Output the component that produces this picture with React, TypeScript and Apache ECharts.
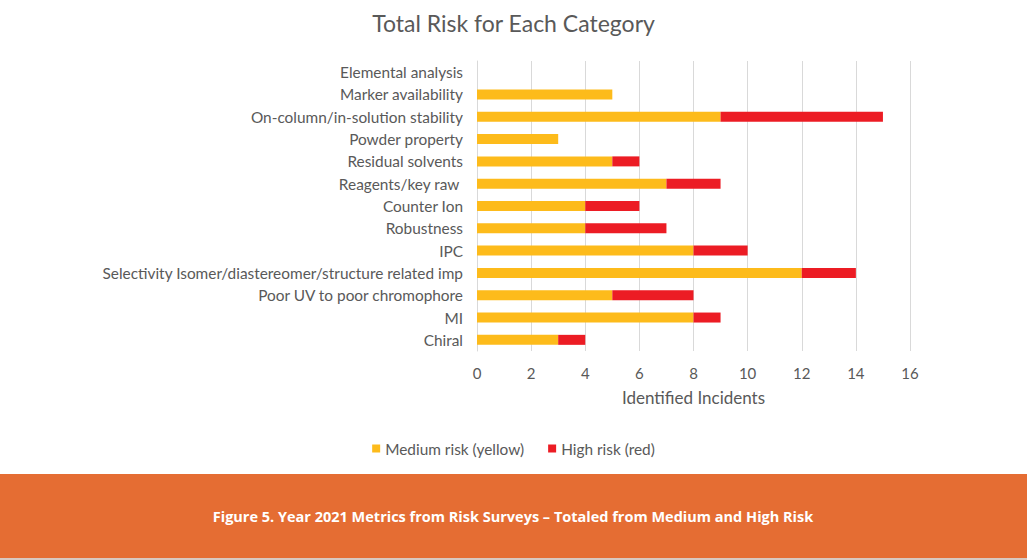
import React, { useEffect, useRef } from "react";
import * as echarts from "echarts";

// Risk categories, listed top to bottom
const categories = [
  "Elemental analysis",
  "Marker availability",
  "On-column/in-solution stability",
  "Powder property",
  "Residual solvents",
  "Reagents/key raw ",
  "Counter Ion",
  "Robustness",
  "IPC",
  "Selectivity Isomer/diastereomer/structure related imp",
  "Poor UV to poor chromophore",
  "MI",
  "Chiral",
];

const mediumRisk = [0, 5, 9, 3, 5, 7, 4, 4, 8, 12, 5, 8, 3];
const highRisk = [0, 0, 6, 0, 1, 2, 2, 3, 2, 2, 3, 1, 1];

const xTicks = { min: 0, max: 16, interval: 2 };

const chartTitle = "Total Risk for Each Category";
const xAxisName = "Identified Incidents";
const caption =
  "Figure 5. Year 2021 Metrics from Risk Surveys \u2013 Totaled from Medium and High Risk";

const TEXT = "#595959";
const FONT = "Lato, 'Open Sans', sans-serif";

export default function App() {
  const ref = useRef<HTMLDivElement>(null);

  useEffect(() => {
    if (!ref.current) return;
    const chart = echarts.init(ref.current, undefined, { renderer: "svg" });
    chart.setOption({
      animation: false,
      backgroundColor: "#ffffff",
      textStyle: { fontFamily: FONT },
      title: {
        text: chartTitle,
        left: "center",
        top: 6,
        textStyle: { color: TEXT, fontSize: 23, fontWeight: "normal", fontFamily: FONT },
      },
      legend: {
        top: 436,
        left: "center",
        icon: "rect",
        itemWidth: 8,
        itemHeight: 8,
        itemGap: 24,
        textStyle: { color: TEXT, fontSize: 15.4, fontFamily: FONT },
        data: ["Medium risk (yellow)", "High risk (red)"],
      },
      grid: { left: 477, right: 117, top: 61, height: 290, containLabel: false },
      xAxis: {
        type: "value",
        min: xTicks.min,
        max: xTicks.max,
        interval: xTicks.interval,
        name: xAxisName,
        nameLocation: "middle",
        nameGap: 38,
        nameTextStyle: { color: TEXT, fontSize: 17, fontFamily: FONT },
        axisLine: { show: false },
        axisTick: { show: false },
        axisLabel: { color: TEXT, fontSize: 15, margin: 14, fontFamily: FONT },
        splitLine: { show: true, lineStyle: { color: "#D9D9D9", width: 1 } },
      },
      yAxis: {
        type: "category",
        inverse: true,
        data: categories,
        axisLine: { show: true, lineStyle: { color: "#D9D9D9", width: 1 } },
        axisTick: { show: false },
        axisLabel: { color: TEXT, fontSize: 15.4, margin: 14, fontFamily: FONT },
      },
      series: [
        {
          name: "Medium risk (yellow)",
          type: "bar",
          stack: "risk",
          barWidth: 10,
          itemStyle: { color: "#FDBB1B" },
          data: mediumRisk,
        },
        {
          name: "High risk (red)",
          type: "bar",
          stack: "risk",
          barWidth: 10,
          itemStyle: { color: "#EC1C24" },
          data: highRisk,
        },
      ],
      graphic: [
        {
          type: "rect",
          shape: { x: 0, y: 474, width: 1027, height: 84 },
          style: { fill: "#E56D33" },
          silent: true,
        },
        {
          type: "rect",
          shape: { x: 0, y: 558, width: 1027, height: 2 },
          style: { fill: "#D8C8C0" },
          silent: true,
        },
        {
          type: "text",
          x: 513,
          y: 516,
          style: {
            text: caption,
            fill: "#ffffff",
            fontSize: 14.5,
            fontWeight: "bold",
            fontFamily: "'Liberation Sans Narrow', 'Open Sans', sans-serif",
            align: "center",
            verticalAlign: "middle",
          },
          silent: true,
        },
      ],
    });
    return () => chart.dispose();
  }, []);

  return (
    <div
      ref={ref}
      style={{ position: "fixed", left: 0, top: 0, width: 1027, height: 560 }}
    />
  );
}
